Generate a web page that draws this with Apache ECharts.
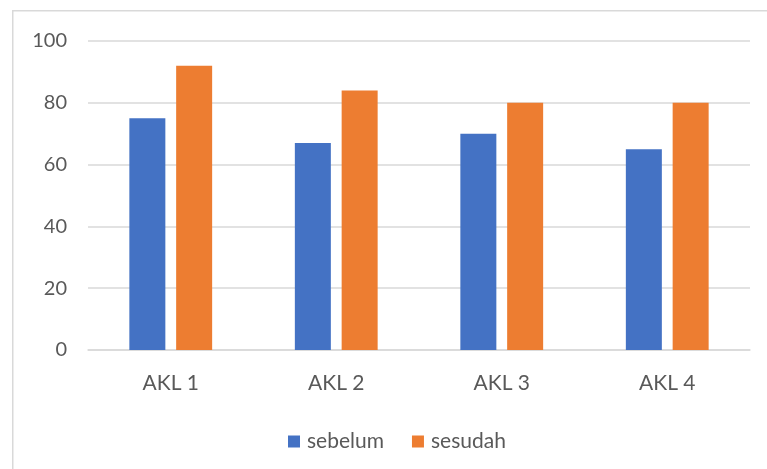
<!DOCTYPE html>
<html><head><meta charset="utf-8">
<script src="https://cdn.jsdelivr.net/npm/echarts@6/dist/echarts.min.js"></script>
<style>html,body{margin:0;padding:0;background:#fff}#c{width:767px;height:469px}</style>
</head><body><div id="c"></div>
<script>
const categories = ['AKL 1', 'AKL 2', 'AKL 3', 'AKL 4'];
const sebelum = [75, 67, 70, 65];
const sesudah = [92, 84, 80, 80];
const seriesNames = ['sebelum', 'sesudah'];
const yTicks = { min: 0, max: 100, interval: 20 };

const chart = echarts.init(document.getElementById('c'), null, { renderer: 'canvas' });
const font = 'Lato, "Liberation Sans", sans-serif';
chart.setOption({
  animation: false,
  backgroundColor: '#fff',
  graphic: [{
    type: 'rect', left: 12, top: 10, z: -1,
    shape: { width: 800, height: 500 },
    style: { fill: '#fff', stroke: '#d9d9d9', lineWidth: 1.5 }
  }],
  grid: { left: 88, right: 17, top: 41, bottom: 119 },
  legend: {
    left: 283, top: 426,
    itemWidth: 12, itemHeight: 12, itemGap: 28,
    icon: 'rect',
    textStyle: { color: '#595959', fontSize: 21, fontFamily: font, padding: [0, 0, 0, 2] },
    data: seriesNames
  },
  xAxis: {
    type: 'category', data: categories,
    axisLine: { lineStyle: { color: '#d9d9d9', width: 1.5 } },
    axisTick: { show: false },
    axisLabel: { color: '#595959', fontSize: 21, fontFamily: font, margin: 23 }
  },
  yAxis: {
    type: 'value', min: yTicks.min, max: yTicks.max, interval: yTicks.interval,
    axisLine: { show: false }, axisTick: { show: false },
    splitLine: { lineStyle: { color: '#d9d9d9', width: 1.5 } },
    axisLabel: { color: '#595959', fontSize: 20, fontFamily: font, margin: 21 }
  },
  series: [
    { name: seriesNames[0], type: 'bar', data: sebelum, barWidth: 36, barGap: '30%',
      itemStyle: { color: '#4472C4' } },
    { name: seriesNames[1], type: 'bar', data: sesudah, barWidth: 36, barGap: '30%',
      itemStyle: { color: '#ED7D31' } }
  ]
});
</script></body></html>
